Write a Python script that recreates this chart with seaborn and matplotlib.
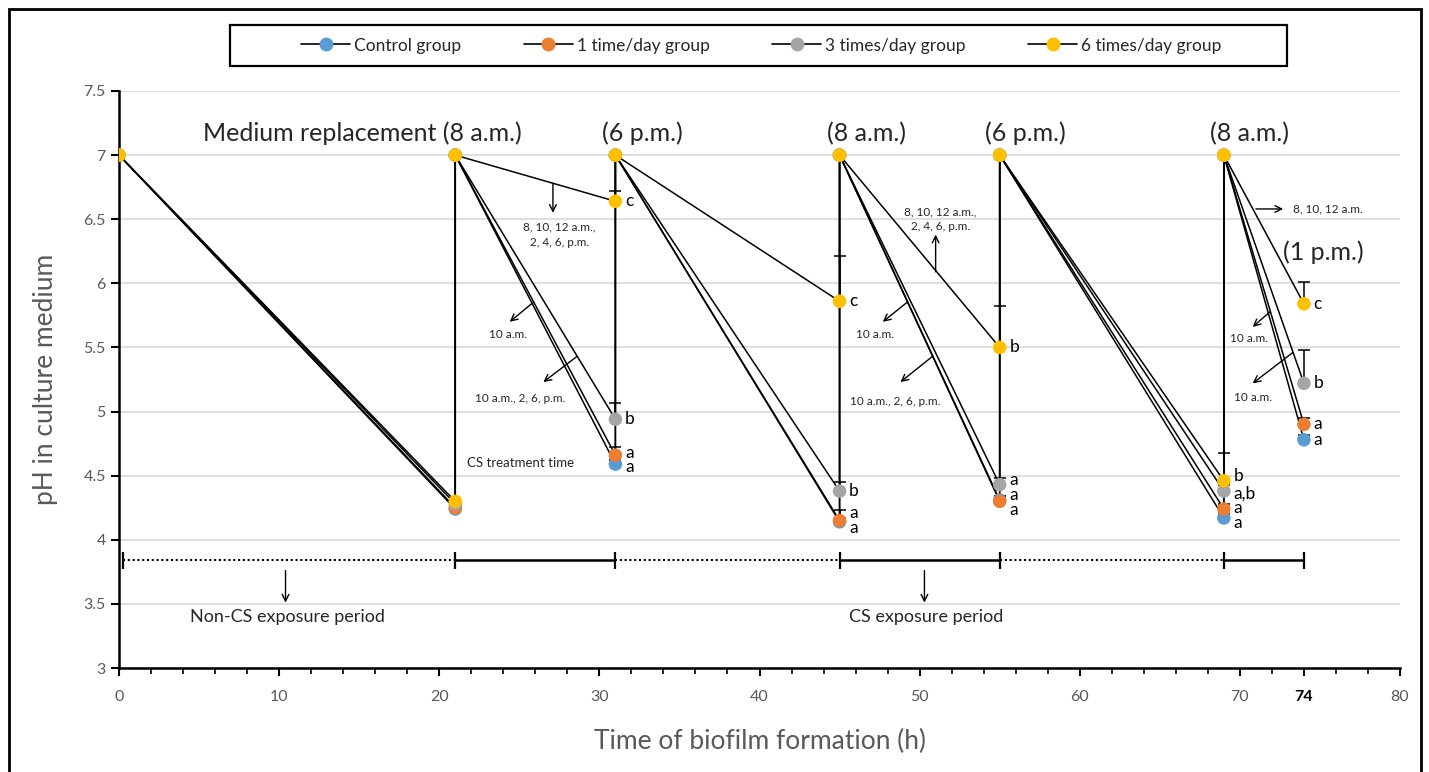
import matplotlib.pyplot as plt
from matplotlib.lines import Line2D
from matplotlib.patches import Rectangle
import numpy as np
import pandas as pd
import seaborn as sns

##DATA: --------------------------------------------------------------------------------
groups = ["Control group", "1 time/day group", "3 times/day group", "6 times/day group"]
colors = ["#5B9BD5", "#ED7D31", "#A5A5A5", "#FFC000"]

start_ph = 7.0                          # pH right after medium replacement
sample_h = [21, 31, 45, 55, 69, 74]     # sampling times (h)

ph_control = [4.24, 4.59, 4.14, 4.31, 4.17, 4.78]
ph_1day    = [4.25, 4.66, 4.15, 4.30, 4.24, 4.90]
ph_3day    = [4.28, 4.94, 4.38, 4.43, 4.38, 5.22]
ph_6day    = [4.30, 6.64, 5.86, 5.50, 4.46, 5.84]

# upper error bars only
err_control = [0.0, 0.03, 0.03, 0.03, 0.03, 0.04]
err_1day    = [0.0, 0.06, 0.08, 0.04, 0.04, 0.05]
err_3day    = [0.0, 0.13, 0.07, 0.05, 0.05, 0.26]
err_6day    = [0.0, 0.08, 0.35, 0.32, 0.22, 0.17]

# significance letters
sig_control = ["", "a", "a", "a", "a", "a"]
sig_1day    = ["", "a", "a", "a", "a", "a"]
sig_3day    = ["", "b", "b", "a", "a,b", "b"]
sig_6day    = ["", "c", "c", "b", "b", "c"]

ph_all = [ph_control, ph_1day, ph_3day, ph_6day]
err_all = [err_control, err_1day, err_3day, err_6day]
sig_all = [sig_control, sig_1day, sig_3day, sig_6day]
# small vertical nudges so stacked letters don't collide
nudge_all = [[0, -0.02, -0.05, -0.08, -0.04, 0],
             [0, 0.02, 0.06, 0.05, 0.01, 0],
             [0, 0, 0, 0.04, -0.02, 0],
             [0, 0, 0, 0, 0.04, 0]]

# exposure periods (bottom bar)
period_start = [0.25, 21, 31, 45, 55, 69]
period_end   = [21, 31, 45, 55, 69, 74]
period_cs    = [False, True, False, True, False, True]

##BUILD TABLES: -------------------------------------------------------------------------
rows = []
for g, ph in zip(groups, ph_all):
    rows.append((g, 0, start_ph))
    for i, (t, v) in enumerate(zip(sample_h, ph)):
        rows.append((g, t, v))
        if i < len(sample_h) - 1:
            rows.append((g, t, start_ph))
line_df = pd.DataFrame(rows, columns=["group", "time", "ph"])

##PLOT: ---------------------------------------------------------------------------------
sns.set_theme(style="white")
plt.rcParams["font.family"] = ["Lato", "DejaVu Sans"]

fig = plt.figure(figsize=(14.29, 7.72), dpi=100)
ax = fig.add_axes([119 / 1429, 1 - 668 / 772, 1281 / 1429, 577 / 772])

for g in groups:
    sns.lineplot(data=line_df[line_df.group == g], x="time", y="ph", sort=False,
                 estimator=None, color="black", lw=1.1, ax=ax, zorder=2)

for g, ph, er in zip(groups, ph_all, err_all):
    ax.errorbar(sample_h, ph, yerr=[np.zeros(len(er)), er], fmt="none", ecolor="black",
                elinewidth=1.1, capsize=4, capthick=1.1, zorder=2)

sns.scatterplot(data=line_df, x="time", y="ph", hue="group", palette=colors, s=95,
                linewidth=0, legend=False, ax=ax, zorder=3)

# letters
for ph, sig, nud in zip(ph_all, sig_all, nudge_all):
    for t, v, s, n in zip(sample_h, ph, sig, nud):
        if s:
            ax.text(t + 0.6, v + n, s, fontsize=12.5, ha="left", va="center", color="black")

# time-of-day labels
tfs = 18
ax.text(15.2, 7.17, "Medium replacement (8 a.m.)", fontsize=tfs, ha="center", va="center")
ax.text(32.7, 7.17, "(6 p.m.)", fontsize=tfs, ha="center", va="center")
ax.text(46.7, 7.17, "(8 a.m.)", fontsize=tfs, ha="center", va="center")
ax.text(56.6, 7.17, "(6 p.m.)", fontsize=tfs, ha="center", va="center")
ax.text(70.6, 7.17, "(8 a.m.)", fontsize=tfs, ha="center", va="center")
ax.text(75.2, 6.24, "(1 p.m.)", fontsize=tfs, ha="center", va="center")

# treatment-time callouts
aprops = dict(arrowstyle="->", lw=1.0, color="black", shrinkA=0, shrinkB=0)
callouts = [
    ((27.1, 6.78), (27.1, 6.55), (27.5, 6.38), "8, 10, 12 a.m.,\n2, 4, 6, p.m.", "center"),
    ((25.86, 5.85), (24.4, 5.70), (24.3, 5.60), "10 a.m.", "center"),
    ((28.6, 5.43), (26.5, 5.23), (25.05, 5.10), "10 a.m., 2, 6, p.m.", "center"),
    ((51.0, 6.09), (51.0, 6.38), (51.3, 6.50), "8, 10, 12 a.m.,\n2, 4, 6, p.m.", "center"),
    ((49.2, 5.85), (47.7, 5.70), (47.2, 5.60), "10 a.m.", "center"),
    ((50.8, 5.43), (48.8, 5.23), (48.5, 5.08), "10 a.m., 2, 6, p.m.", "center"),
    ((71.0, 6.58), (72.7, 6.58), (73.3, 6.58), "8, 10, 12 a.m.", "left"),
    ((71.9, 5.78), (70.8, 5.66), (70.6, 5.57), "10 a.m.", "center"),
    ((73.3, 5.46), (70.8, 5.22), (70.8, 5.11), "10 a.m.", "center"),
]
for start, end, tpos, txt, ha in callouts:
    ax.annotate("", xy=end, xytext=start, arrowprops=aprops)
    ax.text(tpos[0], tpos[1], txt, fontsize=8.5, ha=ha, va="center", linespacing=1.5)
ax.text(25.05, 4.60, "CS treatment time", fontsize=9.5, ha="center", va="center")

# exposure period bar
ybar = 3.84
for s, e, cs in zip(period_start, period_end, period_cs):
    if cs:
        ax.plot([s, e], [ybar, ybar], color="black", lw=1.8, solid_capstyle="butt")
        ax.vlines([s, e], ybar - 0.065, ybar + 0.065, color="black", lw=1.6)
    else:
        ax.plot([s, e], [ybar, ybar], color="black", lw=1.5, linestyle=(0, (1, 1.3)))
ax.vlines(period_start[0], ybar - 0.065, ybar + 0.065, color="black", lw=1.6)
ax.annotate("", xy=(10.4, 3.51), xytext=(10.4, 3.76), arrowprops=aprops)
ax.annotate("", xy=(50.3, 3.51), xytext=(50.3, 3.76), arrowprops=aprops)
ax.text(10.5, 3.40, "Non-CS exposure period", fontsize=13, ha="center", va="center")
ax.text(50.4, 3.40, "CS exposure period", fontsize=13, ha="center", va="center")

# axes
ax.set_xlim(0, 80)
ax.set_ylim(3, 7.5)
xt = [0, 10, 20, 30, 40, 50, 60, 70, 74, 80]
ax.set_xticks(xt)
ax.set_xticklabels([str(v) for v in xt])
ax.set_xticks(np.arange(0, 81, 2), minor=True)
ax.set_yticks(np.arange(3, 7.51, 0.5))
ax.set_yticklabels(["3", "3.5", "4", "4.5", "5", "5.5", "6", "6.5", "7", "7.5"])
ax.yaxis.grid(True, color="#d9d9d9", lw=1.2)
ax.set_axisbelow(True)
for side in ["top", "right"]:
    ax.spines[side].set_visible(False)
for side in ["left", "bottom"]:
    ax.spines[side].set_color("black")
    ax.spines[side].set_linewidth(1.8)
ax.tick_params(axis="both", which="major", direction="out", length=6, width=1.5,
               color="black", labelsize=11.5, labelcolor="#595959", bottom=True, left=True)
ax.tick_params(axis="x", which="minor", direction="out", length=4, width=1.2,
               color="black", bottom=True)
ax.tick_params(axis="x", pad=10)
lab74 = ax.get_xticklabels()[8]
lab74.set_color("black")
lab74.set_fontweight("bold")
ax.set_xlabel("Time of biofilm formation (h)", fontsize=19, color="#595959", labelpad=18)
ax.set_ylabel("pH in culture medium", fontsize=19, color="#595959", labelpad=18)

# legend: box drawn separately, entries centred inside it
box_x, box_y, box_w, box_h = 230 / 1429, 1 - 66 / 772, 1057 / 1429, 41 / 772
fig.patches.append(Rectangle((box_x, box_y), box_w, box_h, fill=False, edgecolor="black",
                             lw=1.6, transform=fig.transFigure, figure=fig))
handles = [Line2D([0], [0], color="black", lw=1.2, marker="o", markersize=9,
                  markerfacecolor=c, markeredgecolor=c) for c in colors]
leg = fig.legend(handles, groups, loc="center", ncol=4,
                 bbox_to_anchor=(box_x + box_w / 2 + 3 / 1429, box_y + box_h / 2),
                 fontsize=12.5, frameon=False, borderaxespad=0,
                 handlelength=2.8, handletextpad=0.25, columnspacing=3.6)
for t in leg.get_texts():
    t.set_color("#262626")

# outer frame
fig.patches.append(Rectangle((9 / 1429, -0.01), 1412 / 1429, 1.01 - 9 / 772, fill=False,
                             edgecolor="black", lw=2, transform=fig.transFigure, figure=fig))

fig.savefig("out.png", dpi=100)
